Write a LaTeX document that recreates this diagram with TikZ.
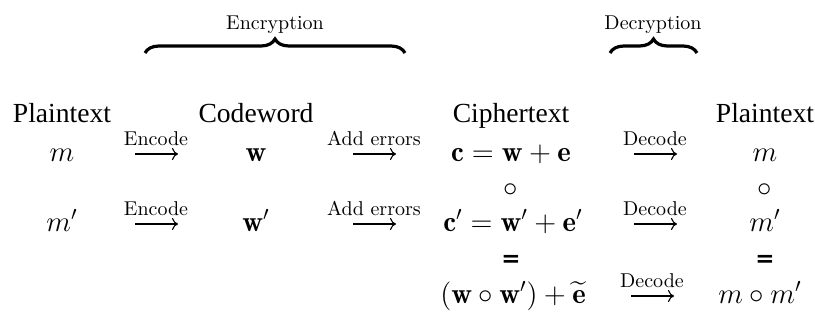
\documentclass[tikz,border=0pt]{standalone}
\usepackage{amsmath}
\usepackage{fontspec}
\newfontfamily\hdrfamily{Liberation Serif}
\newfontfamily\eqfamily{DejaVu Sans}
\usetikzlibrary{decorations.pathreplacing,arrows.meta}
\tikzset{
  every node/.style={inner sep=0pt, anchor=base, font=\fontsize{14.4}{17}\selectfont},
  hdr/.style={font=\hdrfamily\fontsize{13.8}{16}\selectfont},
  small/.style={font=\fontsize{10}{12}\selectfont},
  eqsign/.style={font=\eqfamily\bfseries\fontsize{11.5}{12}\selectfont},
  arrlabel/.style={font=\fontsize{10}{12}\selectfont, anchor=base},
  maparrow/.style={-{Computer Modern Rightarrow[length=3pt,width=6pt]}, line width=0.55pt},
  bracepath/.style={decorate, decoration={brace, amplitude=7pt}, line width=1.6pt}
}
\begin{document}
\begin{tikzpicture}[x=0.5pt,y=-0.5pt]
\useasboundingbox (0,0) rectangle (815,322);
% braces
\coordinate (encL) at (145,53);
\coordinate (encR) at (405,53);
\coordinate (decL) at (610,53);
\coordinate (decR) at (697,53);
\draw[bracepath] (encL) -- (encR);
\draw[bracepath] (decL) -- (decR);
\node[small] (enc) at (275,29) {Encryption};
\node[small] (dec) at (653,29) {Decryption};
% headers
\node[hdr] (h1) at (62,122) {Plaintext};
\node[hdr] (h2) at (256,122) {Codeword};
\node[hdr] (h3) at (511,122) {Ciphertext};
\node[hdr] (h4) at (765,122) {Plaintext};
% row 1
\node (m1) at (62,161) {$m$};
\node (w1) at (256,161) {$\mathbf{w}$};
\node (c1) at (511,161) {$\mathbf{c}=\mathbf{w}+\mathbf{e}$};
\node (p1) at (765,161) {$m$};
% circle row
\node (o1) at (511,196) {$\circ$};
\node (o2) at (765,196) {$\circ$};
% row 2
\node (m2) at (62,231) {$m'$};
\node (w2) at (256,231) {$\mathbf{w}'$};
\node (c2) at (513,231) {$\mathbf{c}'=\mathbf{w}'+\mathbf{e}'$};
\node (p2) at (765,231) {$m'$};
% equals row
\node[eqsign] (q1) at (511,266) {=};
\node[eqsign] (q2) at (765,266) {=};
% row 3
\node (c3) at (513,303) {$(\mathbf{w}\circ\mathbf{w}')+\widetilde{\mathbf{e}}$};
\node (p3) at (760,303) {$m\circ m'$};
% arrows (row 1)
\coordinate (e1s) at (135,154); \coordinate (e1e) at (178,154);
\coordinate (a1s) at (353,154); \coordinate (a1e) at (396,154);
\coordinate (d1s) at (634,154); \coordinate (d1e) at (677,154);
\draw[maparrow] (e1s) -- (e1e);
\draw[maparrow] (a1s) -- (a1e);
\draw[maparrow] (d1s) -- (d1e);
\node[arrlabel] (le1) at (156,145) {Encode};
\node[arrlabel] (la1) at (374,145) {Add errors};
\node[arrlabel] (ld1) at (655,145) {Decode};
% arrows (row 2)
\coordinate (e2s) at (135,224); \coordinate (e2e) at (178,224);
\coordinate (a2s) at (353,224); \coordinate (a2e) at (396,224);
\coordinate (d2s) at (634,224); \coordinate (d2e) at (677,224);
\draw[maparrow] (e2s) -- (e2e);
\draw[maparrow] (a2s) -- (a2e);
\draw[maparrow] (d2s) -- (d2e);
\node[arrlabel] (le2) at (156,215) {Encode};
\node[arrlabel] (la2) at (374,215) {Add errors};
\node[arrlabel] (ld2) at (655,215) {Decode};
% arrow (row 3)
\coordinate (d3s) at (631,296); \coordinate (d3e) at (674,296);
\draw[maparrow] (d3s) -- (d3e);
\node[arrlabel] (ld3) at (652,287) {Decode};
\end{tikzpicture}
\end{document}
